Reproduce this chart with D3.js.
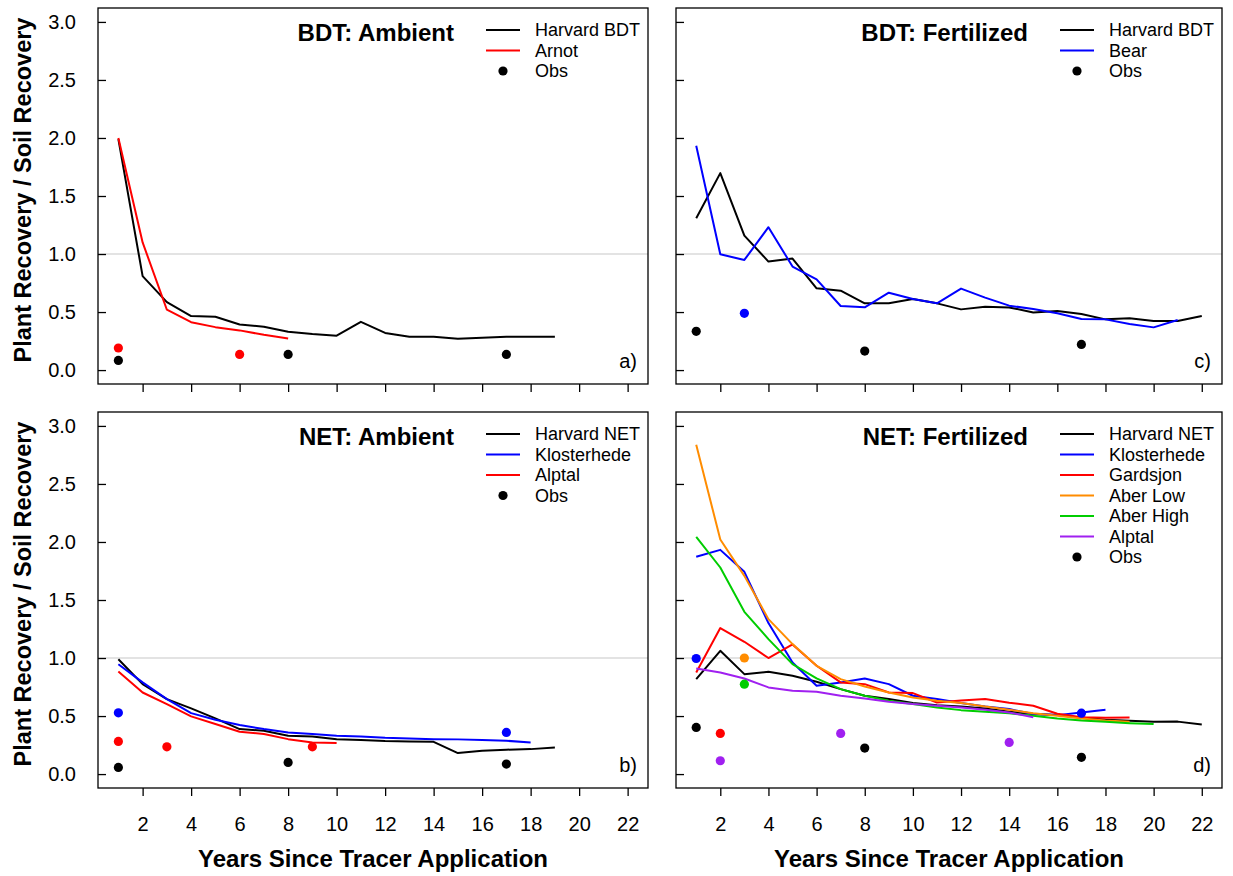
<!DOCTYPE html>
<html>
<head>
<meta charset="utf-8">
<script src="https://cdn.jsdelivr.net/npm/d3@7"></script>
<style>
  html, body { margin: 0; padding: 0; background: #fff; }
  svg { display: block; font-family: "Liberation Sans", Arial, Helvetica, sans-serif; }
</style>
</head>
<body>
<svg id="chart" width="1233" height="876"></svg>
<script>
// ---------------- Data ----------------
const xTicks = [2, 4, 6, 8, 10, 12, 14, 16, 18, 20, 22];
const yTicks = [0.0, 0.5, 1.0, 1.5, 2.0, 2.5, 3.0];

// Panel a) BDT: Ambient
const aHarvardBDT = [1.99, 0.81, 0.586, 0.465, 0.459, 0.393, 0.373, 0.33, 0.31, 0.296, 0.416, 0.32, 0.287, 0.287, 0.27, 0.278, 0.287, 0.287, 0.287];
const aArnot = [2.0, 1.10, 0.52, 0.413, 0.37, 0.342, 0.304, 0.273];
const aObsBlack = [[1, 0.083], [8, 0.135], [17, 0.135]];
const aObsRed = [[1, 0.19], [6, 0.135]];

// Panel c) BDT: Fertilized
const cHarvardBDT = [1.309, 1.697, 1.159, 0.935, 0.961, 0.705, 0.684, 0.575, 0.575, 0.613, 0.575, 0.523, 0.546, 0.54, 0.497, 0.509, 0.483, 0.437, 0.446, 0.423, 0.423, 0.466];
const cBear = [1.933, 0.998, 0.949, 1.231, 0.892, 0.782, 0.552, 0.541, 0.667, 0.613, 0.575, 0.702, 0.624, 0.555, 0.526, 0.489, 0.44, 0.437, 0.397, 0.368, 0.431];
const cObsBlack = [[1, 0.334], [8, 0.164], [17, 0.221]];
const cObsBlue = [[3, 0.489]];

// Panel b) NET: Ambient
const bHarvardNET = [0.99, 0.775, 0.646, 0.566, 0.48, 0.388, 0.373, 0.33, 0.324, 0.301, 0.293, 0.284, 0.281, 0.278, 0.181, 0.201, 0.21, 0.215, 0.23];
const bKlosterhede = [0.947, 0.79, 0.646, 0.525, 0.468, 0.422, 0.388, 0.359, 0.345, 0.33, 0.324, 0.313, 0.307, 0.301, 0.299, 0.293, 0.287, 0.273];
const bAlptal = [0.884, 0.703, 0.603, 0.497, 0.431, 0.365, 0.345, 0.301, 0.273, 0.267];
const bObsBlack = [[1, 0.057], [8, 0.1], [17, 0.086]];
const bObsBlue = [[1, 0.528], [17, 0.359]];
const bObsRed = [[1, 0.281], [3, 0.235], [9, 0.235]];

// Panel d) NET: Fertilized
const dHarvardNET = [0.818, 1.062, 0.861, 0.881, 0.847, 0.795, 0.732, 0.675, 0.646, 0.612, 0.594, 0.583, 0.566, 0.537, 0.517, 0.508, 0.488, 0.468, 0.46, 0.451, 0.452, 0.428];
const dKlosterhede = [1.872, 1.932, 1.743, 1.301, 0.962, 0.761, 0.79, 0.824, 0.775, 0.675, 0.646, 0.612, 0.583, 0.56, 0.517, 0.508, 0.531, 0.554];
const dGardsjon = [0.876, 1.258, 1.14, 1.0, 1.117, 0.933, 0.79, 0.775, 0.703, 0.698, 0.617, 0.635, 0.646, 0.615, 0.589, 0.52, 0.49, 0.485, 0.488];
const dAberLow = [2.837, 2.021, 1.708, 1.335, 1.12, 0.933, 0.818, 0.755, 0.703, 0.66, 0.632, 0.612, 0.583, 0.554, 0.525, 0.502, 0.479, 0.462, 0.451];
const dAberHigh = [2.044, 1.78, 1.398, 1.163, 0.947, 0.824, 0.732, 0.675, 0.632, 0.603, 0.574, 0.551, 0.537, 0.525, 0.502, 0.479, 0.462, 0.451, 0.439, 0.431];
const dAlptal = [0.91, 0.876, 0.824, 0.747, 0.718, 0.709, 0.675, 0.652, 0.623, 0.603, 0.589, 0.574, 0.554, 0.531, 0.49];
const dObsBlack = [[1, 0.402], [8, 0.224], [17, 0.144]];
const dObsBlue = [[1, 0.996], [17, 0.525]];
const dObsRed = [[2, 0.35]];
const dObsOrange = [[3, 1.0]];
const dObsGreen = [[3, 0.775]];
const dObsPurple = [[2, 0.115], [7, 0.35], [14, 0.273]];

// ---------------- Colours ----------------
const COL = {
  black: "#000000", red: "#ff0000", blue: "#0000ff",
  orange: "#ff8c00", green: "#00cd00", purple: "#a020f0"
};

const panels = [
  {
    box: { left: 98, right: 648, top: 8, bottom: 384 },
    title: "BDT: Ambient", tag: "a)", yLabels: true, xLabels: false,
    lines: [
      { name: "Harvard BDT", color: COL.black, values: aHarvardBDT },
      { name: "Arnot", color: COL.red, values: aArnot }
    ],
    obs: [
      { color: COL.red, pts: aObsRed },
      { color: COL.black, pts: aObsBlack }
    ]
  },
  {
    box: { left: 676, right: 1222, top: 8, bottom: 384 },
    title: "BDT: Fertilized", tag: "c)", yLabels: false, xLabels: false,
    lines: [
      { name: "Harvard BDT", color: COL.black, values: cHarvardBDT },
      { name: "Bear", color: COL.blue, values: cBear }
    ],
    obs: [
      { color: COL.black, pts: cObsBlack },
      { color: COL.blue, pts: cObsBlue }
    ]
  },
  {
    box: { left: 98, right: 648, top: 412, bottom: 788 },
    title: "NET: Ambient", tag: "b)", yLabels: true, xLabels: true,
    lines: [
      { name: "Harvard NET", color: COL.black, values: bHarvardNET },
      { name: "Klosterhede", color: COL.blue, values: bKlosterhede },
      { name: "Alptal", color: COL.red, values: bAlptal }
    ],
    obs: [
      { color: COL.black, pts: bObsBlack },
      { color: COL.blue, pts: bObsBlue },
      { color: COL.red, pts: bObsRed }
    ]
  },
  {
    box: { left: 676, right: 1222, top: 412, bottom: 788 },
    title: "NET: Fertilized", tag: "d)", yLabels: false, xLabels: true,
    lines: [
      { name: "Harvard NET", color: COL.black, values: dHarvardNET },
      { name: "Klosterhede", color: COL.blue, values: dKlosterhede },
      { name: "Gardsjon", color: COL.red, values: dGardsjon },
      { name: "Aber Low", color: COL.orange, values: dAberLow },
      { name: "Aber High", color: COL.green, values: dAberHigh },
      { name: "Alptal", color: COL.purple, values: dAlptal }
    ],
    obs: [
      { color: COL.black, pts: dObsBlack },
      { color: COL.blue, pts: dObsBlue },
      { color: COL.red, pts: dObsRed },
      { color: COL.orange, pts: dObsOrange },
      { color: COL.green, pts: dObsGreen },
      { color: COL.purple, pts: dObsPurple }
    ]
  }
];

// ---------------- Drawing ----------------
const svg = d3.select("#chart");

panels.forEach(p => {
  const b = p.box;
  const x = d3.scaleLinear().domain([0.16, 22.84]).range([b.left, b.right]);
  const y = d3.scaleLinear().domain([-0.12, 3.12]).range([b.bottom, b.top]);
  const g = svg.append("g");

  // reference line at 1.0
  g.append("line")
    .attr("x1", b.left).attr("x2", b.right)
    .attr("y1", y(1)).attr("y2", y(1))
    .attr("stroke", "#c8c8c8").attr("stroke-width", 1.2);

  // series lines
  const line = d3.line().x((d, i) => x(i + 1)).y(d => y(d));
  p.lines.forEach(s => {
    g.append("path").datum(s.values)
      .attr("d", line)
      .attr("fill", "none")
      .attr("stroke", s.color)
      .attr("stroke-width", 2)
      .attr("stroke-linejoin", "round");
  });

  // observations
  p.obs.forEach(o => {
    g.selectAll(null).data(o.pts).enter().append("circle")
      .attr("cx", d => x(d[0])).attr("cy", d => y(d[1]))
      .attr("r", 4.6).attr("fill", o.color);
  });

  // box
  g.append("rect")
    .attr("x", b.left).attr("y", b.top)
    .attr("width", b.right - b.left).attr("height", b.bottom - b.top)
    .attr("fill", "none").attr("stroke", "#000").attr("stroke-width", 1.3);

  // x axis (ticks outward, below box)
  const xAxis = d3.axisBottom(x).tickValues(xTicks).tickSizeInner(8).tickSizeOuter(0)
    .tickPadding(21).tickFormat(p.xLabels ? d3.format("d") : () => "");
  const xg = g.append("g").attr("transform", `translate(0,${b.bottom})`).call(xAxis);
  xg.select(".domain").remove();
  xg.selectAll(".tick line").attr("stroke", "#000").attr("stroke-width", 1.3);
  xg.selectAll(".tick text").attr("font-size", 20).attr("fill", "#000")
    .attr("font-family", "Liberation Sans, Arial, sans-serif");

  // y axis (ticks inward from left border)
  const yAxis = d3.axisRight(y).tickValues(yTicks).tickSizeInner(8).tickSizeOuter(0)
    .tickFormat(() => "");
  const yg = g.append("g").attr("transform", `translate(${b.left},0)`).call(yAxis);
  yg.select(".domain").remove();
  yg.selectAll(".tick line").attr("stroke", "#000").attr("stroke-width", 1.3);
  if (p.yLabels) {
    g.selectAll(null).data(yTicks).enter().append("text")
      .attr("x", b.left - 22).attr("y", d => y(d))
      .attr("text-anchor", "end").attr("dominant-baseline", "central")
      .attr("font-size", 20).attr("fill", "#000")
      .text(d => d3.format(".1f")(d));
  }

  // panel title
  g.append("text")
    .attr("x", b.right - 194).attr("y", b.top + 24)
    .attr("text-anchor", "end").attr("dominant-baseline", "central")
    .attr("font-size", 24).attr("font-weight", "bold").attr("fill", "#000")
    .text(p.title);

  // legend
  const items = p.lines.map(s => ({ name: s.name, color: s.color, type: "line" }))
    .concat([{ name: "Obs", color: "#000", type: "dot" }]);
  items.forEach((it, i) => {
    const ly = b.top + 22 + i * 20.5;
    if (it.type === "line") {
      g.append("line")
        .attr("x1", b.right - 162).attr("x2", b.right - 128)
        .attr("y1", ly).attr("y2", ly)
        .attr("stroke", it.color).attr("stroke-width", 2);
    } else {
      g.append("circle").attr("cx", b.right - 145).attr("cy", ly)
        .attr("r", 4.6).attr("fill", it.color);
    }
    g.append("text")
      .attr("x", b.right - 113).attr("y", ly)
      .attr("dominant-baseline", "central")
      .attr("font-size", 18).attr("fill", "#000")
      .text(it.name);
  });

  // panel tag
  g.append("text")
    .attr("x", b.right - 11).attr("y", b.bottom - 23)
    .attr("text-anchor", "end").attr("dominant-baseline", "central")
    .attr("font-size", 20).attr("fill", "#000")
    .text(p.tag);

  // axis titles
  if (p.yLabels) {
    svg.append("text")
      .attr("transform", `translate(23,${(b.top + b.bottom) / 2 - 6}) rotate(-90)`)
      .attr("text-anchor", "middle").attr("dominant-baseline", "central")
      .attr("font-size", 23.5).attr("font-weight", "bold").attr("fill", "#000")
      .text("Plant Recovery / Soil Recovery");
  }
  if (p.xLabels) {
    svg.append("text")
      .attr("x", (b.left + b.right) / 2).attr("y", 858)
      .attr("text-anchor", "middle").attr("dominant-baseline", "central")
      .attr("font-size", 24).attr("font-weight", "bold").attr("fill", "#000")
      .text("Years Since Tracer Application");
  }
});
</script>
</body>
</html>
